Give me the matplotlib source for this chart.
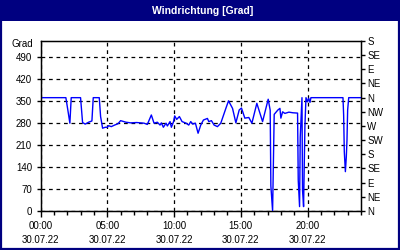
import matplotlib
matplotlib.use("Agg")
import matplotlib.pyplot as plt
from matplotlib.patches import Rectangle

# ---- data (hours since 00:00 on 30.07.22, wind direction in degrees) ----
hours = [0.0, 1.9, 2.05, 2.2, 2.3, 3.0, 3.15, 3.35, 3.6, 3.85, 3.95, 4.4, 4.5, 4.65,
         4.85, 5.0, 5.1, 5.3, 5.55, 5.8, 6.0, 6.4, 6.75, 7.2, 7.75, 8.0, 8.3, 8.5,
         8.75, 8.95, 9.05, 9.2, 9.4, 9.5, 9.7, 9.8, 9.95, 10.05, 10.2, 10.4, 10.6,
         10.9, 11.1, 11.25, 11.4, 11.6, 11.8, 12.0, 12.2, 12.5, 12.6, 12.8, 13.0,
         13.25, 13.5, 13.67, 13.88, 14.08, 14.38, 14.63, 14.88, 15.05, 15.3, 15.6,
         15.83, 16.2, 16.63, 17.05, 17.2, 17.25, 17.38, 17.5, 17.78, 17.93, 18.0,
         18.13, 18.3, 18.6, 18.9, 19.25, 19.3, 19.4, 19.45, 19.58, 19.62, 19.7,
         19.8, 19.88, 20.0, 20.08, 20.18, 20.25, 22.65, 22.7, 22.75, 22.83, 22.9,
         22.95, 23.0, 23.08, 24.0]
direction = [360, 360, 320, 279, 360, 360, 281, 276, 282, 286, 360, 360, 300, 263,
             266, 266, 271, 268, 273, 277, 287, 282, 280, 281, 279, 275, 305, 279,
             282, 273, 280, 266, 279, 270, 284, 266, 282, 302, 291, 300, 284,
             279, 273, 284, 276, 279, 247, 273, 289, 294, 284, 287, 273,
             268, 279, 300, 326, 350, 326, 280, 321, 327, 295, 297,
             279, 342, 284, 355, 320, 80, 0, 307, 321, 326, 295,
             315, 310, 314, 312, 311, 98, 14, 235, 360, 67, 14,
             270, 360, 347, 358, 345, 360, 360, 305, 188, 125, 172,
             225, 321, 360, 360]

left_ticks = [0, 70, 140, 210, 280, 350, 420, 490]
right_ticks = [0, 45, 90, 135, 180, 225, 270, 315, 360, 405, 450, 495, 540]
right_labels = ["N", "NE", "E", "SE", "S", "SW", "W", "NW", "N", "NE", "E", "SE", "S"]
x_ticks = [0, 5, 10, 15, 20]
x_labels = ["00:00\n30.07.22", "05:00\n30.07.22", "10:00\n30.07.22",
            "15:00\n30.07.22", "20:00\n30.07.22"]
title = "Windrichtung [Grad]"
unit = "Grad"

NAVY = "#000080"
FONT = "Liberation Sans"
FS = 7

fig = plt.figure(figsize=(4, 2.5), dpi=100)
fig.patch.set_facecolor("white")

# title band and frame
fig.patches.append(Rectangle((0, 1 - 21 / 250), 1, 21 / 250, transform=fig.transFigure,
                             facecolor=NAVY, edgecolor="none", zorder=0))
fig.patches.append(Rectangle((0.0025, 0.004), 0.995, 0.992, transform=fig.transFigure,
                             facecolor="none", edgecolor=NAVY, linewidth=1.6, zorder=5))
fig.text(0.5075, 1 - 10.5 / 250, title, color="white", fontsize=7.5, fontweight="bold",
         family=FONT, ha="center", va="center")

ax = fig.add_axes([40.5 / 400, 1 - 211 / 250, (361 - 40.5) / 400, 170 / 250])
ax.plot(hours, direction, color="#0000ff", linewidth=1.0, zorder=3)
ax.set_xlim(0, 24)
ax.set_ylim(0, 540)

ax.set_yticks(left_ticks)
ax.set_yticklabels([str(v) for v in left_ticks], family=FONT, fontsize=FS)
ax.set_xticks(x_ticks)
ax.set_xticklabels(x_labels, family=FONT, fontsize=FS, linespacing=1.55)
ax.set_xticks(range(0, 25), minor=True)
ax.tick_params(axis="x", which="major", length=4, width=1, pad=3, direction="out")
ax.tick_params(axis="x", which="minor", length=3, width=1, direction="out")
ax.tick_params(axis="y", length=3, width=1, pad=3, direction="out")
ax.grid(True, which="major", color="black", linestyle=(0, (3, 3)), linewidth=0.9)
for s in ax.spines.values():
    s.set_linewidth(1)
    s.set_color("black")

ax2 = ax.twinx()
ax2.set_ylim(0, 540)
ax2.set_yticks(right_ticks)
ax2.set_yticklabels(right_labels, family=FONT, fontsize=FS)
ax2.tick_params(axis="y", length=3, width=1, pad=1.5, direction="out")

fig.text(33 / 400, 1 - 44.5 / 250, unit, family=FONT, fontsize=FS, ha="right", va="center")

fig.savefig("out.png", dpi=100)
